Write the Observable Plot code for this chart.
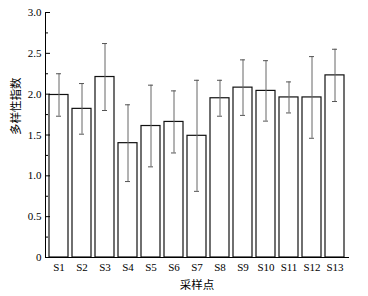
<!DOCTYPE html>
<html><head><meta charset="utf-8">
<script src="https://cdn.jsdelivr.net/npm/d3@7"></script>
<script src="https://cdn.jsdelivr.net/npm/@observablehq/plot@0.6"></script>
<style>
body{margin:0;background:#fff;} svg{display:block;}
</style>
</head><body><div id="chart"></div>
<script>
const sites = ["S1","S2","S3","S4","S5","S6","S7","S8","S9","S10","S11","S12","S13"];
const means = [1.99,1.82,2.21,1.40,1.61,1.66,1.49,1.95,2.08,2.04,1.96,1.96,2.23];
const errs  = [0.26,0.31,0.41,0.47,0.50,0.38,0.68,0.22,0.34,0.37,0.19,0.50,0.32];
const yMajor = [0,0.5,1,1.5,2,2.5,3];
const yMinor = [0.25,0.75,1.25,1.75,2.25,2.75];
const yTitle = "多样性指数";
const xTitle = "采样点";

const data = sites.map((s,i)=>({site:s, mean:means[i], lo:means[i]-errs[i], hi:means[i]+errs[i]}));
const serif = "'Liberation Serif'";
const cjk = "'Noto Sans CJK SC'";

const chart = Plot.plot({
  width: 368, height: 296,
  marginLeft: 45, marginRight: 20, marginTop: 12, marginBottom: 39,
  style: {fontSize: "11px", color: "#000", background: "#fff"},
  x: {domain: sites, paddingInner: 0.17, paddingOuter: 0.03},
  y: {domain: [0,3]},
  marks: [
    Plot.barY(data, {x:"site", y:"mean", fill:"white", stroke:"#111", strokeWidth:1.2}),
    Plot.ruleX(data, {x:"site", y1:"lo", y2:"hi", stroke:"#666", strokeWidth:1}),
    Plot.tickY(data, {x:"site", y:"hi", stroke:"#555", insetLeft:7, insetRight:7}),
    Plot.tickY(data, {x:"site", y:"lo", stroke:"#555", insetLeft:7, insetRight:7}),
    Plot.axisY({ticks: yMajor, tickSize: 0, tickPadding: 4, tickFormat: d => d === 0 ? "0" : d.toFixed(1),
      fontSize: 11, label: null}),
    Plot.axisY({ticks: yMajor, tickSize: -5, tickFormat: () => "", label: null}),
    Plot.axisY({ticks: yMinor, tickSize: -3, tickFormat: () => "", label: null}),
    Plot.axisX({tickSize: 0, tickPadding: 6, fontSize: 11, label: null}),
    Plot.frame({anchor: "left", stroke: "#000"}),
    Plot.frame({anchor: "bottom", stroke: "#000"}),
    Plot.text([yTitle], {frameAnchor: "left", dx: -29, rotate: -90, text: d => d, fontSize: 11.5, fill: "#000"}),
    Plot.text([xTitle], {frameAnchor: "bottom", dy: 31, text: d => d, fontSize: 11.5, fill: "#000"})
  ]
});
d3.select(chart).selectAll("text").each(function() {
  const t = this.textContent;
  const isCjk = /[\u4e00-\u9fff]/.test(t);
  this.setAttribute("style", "font-family:" + (isCjk ? cjk : serif) + ";font-size:" + (isCjk ? "11.5px" : "11px"));
});
document.getElementById("chart").append(chart);
</script>
</body></html>
